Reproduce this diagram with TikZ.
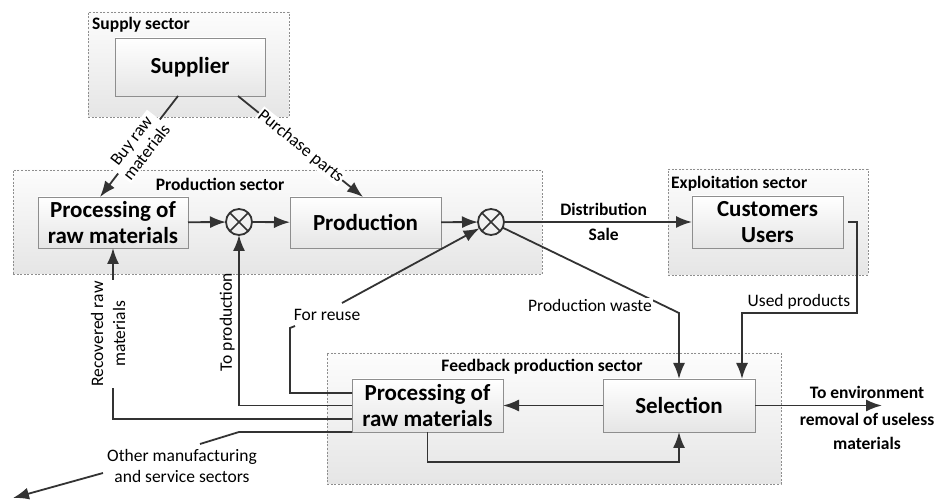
\documentclass[tikz,border=0pt]{standalone}
\usepackage{fontspec}
\setmainfont{Carlito}
\usetikzlibrary{arrows.meta,shadows,calc}
\definecolor{ink}{HTML}{333333}
\definecolor{rim}{HTML}{8E8E8E}
\tikzset{
  sector/.style={rectangle, draw=rim, line width=0.6pt, dash pattern=on 2pt off 1.6pt,
    top color=black!1, bottom color=black!10, inner sep=0pt, outer sep=0pt},
  blk/.style={rectangle, draw=rim, line width=0.7pt, top color=white, bottom color=black!10,
    font=\bfseries\fontsize{23}{25.5}\selectfont, align=center, inner sep=0pt, outer sep=0pt,
    drop shadow={shadow xshift=1.2pt, shadow yshift=-1.2pt, opacity=0.25, fill=black}},
  mix/.style={circle, draw=ink, line width=1.8pt, minimum size=26pt, inner sep=0pt, outer sep=0pt},
  wire/.style={draw=ink, line width=1.8pt},
  flow/.style={wire, -{Latex[length=16pt,width=12pt]}},
  lbl/.style={font=\fontsize{17.5}{20}\selectfont, inner sep=2pt, align=center},
  blbl/.style={font=\bfseries\fontsize{17.5}{20}\selectfont, inner sep=2pt, align=center},
  cover/.style={fill=white}
}
\begin{document}
\begin{tikzpicture}[x=1pt,y=-1pt]
\useasboundingbox (0,0) rectangle (938,502);

% sectors
\node[sector, minimum width=201pt, minimum height=105pt] (supS) at (188.5,64.5) {};
\node[sector, minimum width=529pt, minimum height=104pt] (prodS) at (277.5,222) {};
\node[sector, minimum width=200pt, minimum height=106pt] (expS) at (768,222) {};
\node[sector, minimum width=454pt, minimum height=131pt] (fbS) at (554,418.5) {};

\node[blbl, anchor=west] (tSup) at (90,25) {Supply sector};
\node[blbl] (tProd) at (220,184) {Production sector};
\node[blbl, anchor=west] (tExp) at (669,184) {Exploitation sector};
\node[blbl] (tFb) at (542,367) {Feedback production sector};

% blocks
\node[blk, minimum width=150pt, minimum height=58pt] (sup) at (190,67) {Supplier};
\node[blk, minimum width=150pt, minimum height=51pt] (proc1) at (113,222.5) {Processing of\\raw materials};
\node[blk, minimum width=151pt, minimum height=51pt] (prod) at (365.5,222.5) {Production};
\node[blk, minimum width=151pt, minimum height=52pt] (cust) at (767.5,222) {Customers\\Users};
\node[blk, minimum width=151pt, minimum height=53pt] (proc2) at (427.5,405.5) {Processing of\\raw materials};
\node[blk, minimum width=152pt, minimum height=53pt] (sel) at (679,405.5) {Selection};

% summing junctions
\node[mix] (c1) at (239,222) {};
\node[mix] (c2) at (491,222) {};
\foreach \c in {c1,c2}{
  \draw[wire, line width=1.5pt] (\c.north east) -- (\c.south west) (\c.north west) -- (\c.south east);
}

% supply links
\draw[flow] ([xshift=-12pt]sup.south) -- node[lbl, sloped, cover, inner sep=1pt, font=\fontsize{17.5}{19}\selectfont] {Buy raw\\materials} ([xshift=-13pt]proc1.north);
\draw[flow] ([xshift=48pt]sup.south) -- node[lbl, sloped, cover, inner sep=1pt] {Purchase parts} ([xshift=-2.5pt]prod.north);

% main production line
\draw[flow] (proc1) -- (c1);
\draw[flow] (c1) -- (prod);
\draw[flow] (prod) -- (c2);
\draw[flow] (c2) -- node[blbl, pos=0.53, above=3pt] {Distribution} node[blbl, pos=0.53, below=3pt] {Sale} (cust);

% used products
\node[lbl, anchor=south] (lUsed) at (799,312) {Used products};
\draw[flow] ([xshift=5pt]cust.east) -| (857,313) -| ([xshift=63pt]sel.north);

% production waste
\draw[flow] (c2) -- (679,313) -- (sel.north);
\node[lbl, cover, inner sep=1pt] (lWaste) at (590,305) {Production waste};

% feedback sector internals
\draw[flow] (sel) -- (proc2);
\draw[flow] (proc2.south) -- (proc2.south |- 0,462) -| (sel.south);
\coordinate (env) at (882,405.5);
\draw[flow] (sel) -- (env);
\node[blbl] (lEnv1) at (867,392) {To environment};
\node[blbl, font=\bfseries\fontsize{17.5}{24}\selectfont] (lEnv2) at (867,431) {removal of useless\\materials};

% returns from the feedback processing block
\node[lbl] (lReuse) at (327,315) {For reuse};
\coordinate (r1) at (342,303);
\draw[wire] (proc2.west |- 0,393) -| (290,328) -- (295,326);
\draw[flow] (r1) -- (c2);

\draw[flow] (proc2.west) -| (c1);
\node[lbl, rotate=90, anchor=south] (lToProd) at (237,322) {To production};

\draw[flow] (proc2.west |- 0,419) -| (proc1);
\node[lbl, rotate=90, cover, font=\fontsize{17.5}{22}\selectfont] (lRec) at (108,334) {Recovered raw\\materials};

\coordinate (o1) at (200,444);
\coordinate (o2) at (103,473);
\coordinate (o3) at (13,498);
\draw[wire] (proc2.south west) -- (239,432) -- (o1);
\node[lbl, font=\fontsize{17.5}{21}\selectfont] (lOther) at (182,466) {Other manufacturing\\and service sectors};
\draw[flow] (o2) -- (o3);
\end{tikzpicture}
\end{document}
